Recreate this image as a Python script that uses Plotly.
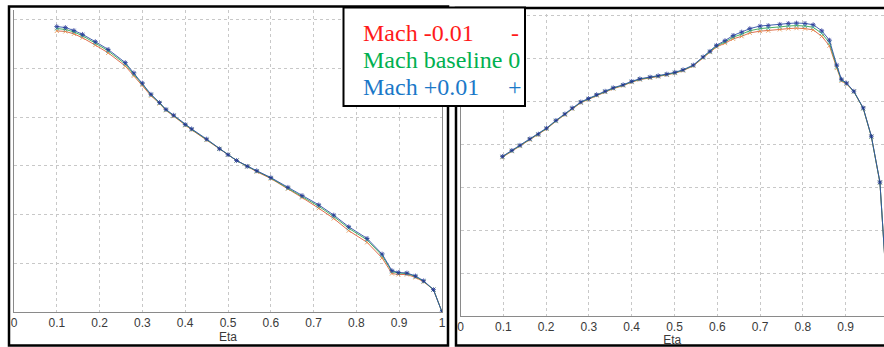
import plotly.graph_objects as go

W, H = 884, 347

# ---------------- data ----------------
left_eta = [0.10, 0.12, 0.14, 0.16, 0.19, 0.22, 0.26, 0.28, 0.30, 0.32, 0.34, 0.355, 0.373,
            0.40, 0.415, 0.45, 0.48, 0.50, 0.52, 0.545, 0.567, 0.60, 0.64, 0.673, 0.712,
            0.747, 0.782, 0.825, 0.86, 0.883, 0.898, 0.918, 0.938, 0.957, 0.98, 1.0]
left_minus = [5.77, 5.76, 5.71, 5.63, 5.48, 5.32, 5.05, 4.85, 4.66, 4.44, 4.28, 4.14, 4.02,
              3.83, 3.74, 3.53, 3.35, 3.23, 3.11, 2.99, 2.88, 2.74, 2.53, 2.35, 2.13,
              1.92, 1.67, 1.43, 1.11, 0.79, 0.77, 0.77, 0.71, 0.62, 0.46, 0.0]
left_base = [5.82, 5.80, 5.75, 5.67, 5.52, 5.36, 5.09, 4.88, 4.68, 4.46, 4.29, 4.15, 4.03,
             3.84, 3.75, 3.54, 3.35, 3.23, 3.11, 2.99, 2.89, 2.75, 2.54, 2.37, 2.17,
             1.96, 1.72, 1.48, 1.16, 0.83, 0.80, 0.79, 0.73, 0.63, 0.46, 0.0]
left_plus = [5.86, 5.84, 5.78, 5.70, 5.55, 5.39, 5.12, 4.91, 4.70, 4.47, 4.30, 4.16, 4.04,
             3.85, 3.76, 3.55, 3.35, 3.23, 3.11, 2.99, 2.90, 2.76, 2.56, 2.39, 2.20,
             1.99, 1.75, 1.51, 1.19, 0.85, 0.81, 0.80, 0.74, 0.64, 0.46, 0.0]

right_eta = [0.098, 0.12, 0.139, 0.162, 0.182, 0.201, 0.223, 0.244, 0.261, 0.281, 0.299,
             0.318, 0.338, 0.357, 0.38, 0.40, 0.419, 0.443, 0.462, 0.482, 0.501, 0.52,
             0.544, 0.567, 0.583, 0.598, 0.618, 0.637, 0.657, 0.676, 0.70, 0.719, 0.746,
             0.766, 0.785, 0.805, 0.824, 0.844, 0.862, 0.879, 0.89, 0.902, 0.919, 0.941,
             0.96, 0.98, 1.0]
right_minus = [3.70, 3.84, 3.96, 4.11, 4.22, 4.36, 4.54, 4.69, 4.83, 4.97, 5.05,
               5.14, 5.22, 5.30, 5.37, 5.45, 5.51, 5.55, 5.58, 5.62, 5.66, 5.72,
               5.83, 6.02, 6.15, 6.27, 6.36, 6.46, 6.52, 6.60, 6.64, 6.65, 6.68,
               6.70, 6.71, 6.70, 6.67, 6.52, 6.30, 5.78, 5.48, 5.41, 5.23, 4.84,
               4.18, 3.11, 0.0]
right_base = [3.71, 3.85, 3.97, 4.12, 4.23, 4.37, 4.55, 4.70, 4.84, 4.98, 5.06,
              5.15, 5.23, 5.31, 5.38, 5.46, 5.52, 5.56, 5.59, 5.63, 5.67, 5.73,
              5.84, 6.03, 6.16, 6.29, 6.39, 6.50, 6.57, 6.65, 6.70, 6.71, 6.74,
              6.76, 6.77, 6.76, 6.73, 6.59, 6.37, 5.81, 5.50, 5.42, 5.23, 4.84,
              4.18, 3.11, 0.0]
right_plus = [3.72, 3.86, 3.98, 4.13, 4.24, 4.38, 4.56, 4.71, 4.85, 4.99, 5.07,
              5.16, 5.24, 5.32, 5.39, 5.47, 5.53, 5.57, 5.60, 5.64, 5.68, 5.74,
              5.85, 6.04, 6.17, 6.31, 6.42, 6.54, 6.62, 6.70, 6.76, 6.77, 6.80,
              6.82, 6.83, 6.82, 6.79, 6.65, 6.43, 5.85, 5.52, 5.43, 5.24, 4.85,
              4.19, 3.12, 0.0]

x_ticks = [0, 0.1, 0.2, 0.3, 0.4, 0.5, 0.6, 0.7, 0.8, 0.9, 1]
x_tick_labels = ["0", "0.1", "0.2", "0.3", "0.4", "0.5", "0.6", "0.7", "0.8", "0.9", "1"]
x_title = "Eta"

legend_labels = ["Mach -0.01", "Mach baseline 0", "Mach +0.01"]
legend_symbols = ["-", "", "+"]
legend_colors = ["#ff1a1a", "#00b050", "#1a78c8"]

# ---------------- helpers ----------------
def px(x):
    return x / W


def py(y):
    return 1 - y / H


series_style = [
    dict(line="#e0603a", marker="#e08030", symbol="x-thin"),
    dict(line="#33a853", marker="#30b0a0", symbol="x-thin"),
    dict(line="#3050a8", marker="#1a2a90", symbol="asterisk"),
]

fig = go.Figure()

for (xs, ys_list, xa, ya) in [
    (left_eta, [left_minus, left_base, left_plus], "x", "y"),
    (right_eta, [right_minus, right_base, right_plus], "x2", "y2"),
]:
    for ys, st, name in zip(ys_list, series_style, legend_labels):
        fig.add_trace(go.Scatter(
            x=xs, y=ys, mode="lines+markers", name=name, xaxis=xa, yaxis=ya,
            line=dict(color=st["line"], width=1),
            marker=dict(symbol=st["symbol"], size=4,
                        line=dict(color=st["marker"], width=0.8)),
            opacity=0.9,
            showlegend=False,
        ))

axis_common = dict(
    showgrid=True, gridcolor="#c8c8c8", griddash="dot", gridwidth=1,
    zeroline=False, showline=True, linecolor="#8a8a8a", linewidth=1,
    automargin=False,
)

fig.update_layout(
    width=W, height=H,
    margin=dict(l=0, r=0, t=0, b=0, pad=0),
    paper_bgcolor="white", plot_bgcolor="white",
    font=dict(family="Liberation Sans, Arial, sans-serif", size=12, color="#3a3a3a"),
    xaxis=dict(**axis_common, domain=[px(14), px(442)], range=[0, 1],
               tickvals=x_ticks, ticktext=x_tick_labels, ticks="",
               title=dict(text=x_title, standoff=0, font=dict(size=12)),
               anchor="y", mirror=False),
    yaxis=dict(**axis_common, domain=[py(312), py(10)], range=[0, 6.2], dtick=1,
               showticklabels=False, ticks="", anchor="x", mirror=True),
    xaxis2=dict(**axis_common, domain=[px(460.5), 1.0], range=[0, 0.9895],
                tickvals=x_ticks, ticktext=x_tick_labels, ticks="",
                title=dict(text=x_title, standoff=0, font=dict(size=12)),
                anchor="y2"),
    yaxis2=dict(**axis_common, domain=[py(316), py(14)], range=[0, 7.04], dtick=1,
                showticklabels=False, ticks="", anchor="x2"),
)

shapes = [
    # left panel border
    dict(type="rect", xref="paper", yref="paper",
         x0=px(9), x1=px(448), y0=py(345.5), y1=py(6.5),
         line=dict(color="black", width=2.5), fillcolor="rgba(0,0,0,0)", layer="above"),
    # right panel border
    dict(type="rect", xref="paper", yref="paper",
         x0=px(456), x1=px(900), y0=py(345.5), y1=py(8),
         line=dict(color="black", width=2.5), fillcolor="rgba(0,0,0,0)", layer="above"),
    # legend box
    dict(type="rect", xref="paper", yref="paper",
         x0=px(343.5), x1=px(525), y0=py(106), y1=py(7.5),
         line=dict(color="black", width=2), fillcolor="white", layer="above"),
]
fig.update_layout(shapes=shapes)

line_y = [33, 60, 87]
for lab, sym, col, yy in zip(legend_labels, legend_symbols, legend_colors, line_y):
    fig.add_annotation(xref="paper", yref="paper", x=px(362), y=py(yy),
                       xanchor="left", yanchor="middle", showarrow=False, text=lab,
                       borderpad=0,
                       font=dict(family="Liberation Serif, Times New Roman, serif",
                                 size=24, color=col))
    if sym:
        fig.add_annotation(xref="paper", yref="paper", x=px(515), y=py(yy),
                           xanchor="center", yanchor="middle", showarrow=False, text=sym,
                           borderpad=0,
                           font=dict(family="Liberation Serif, Times New Roman, serif",
                                     size=24, color=col))

fig.write_html("out.html", config={"displayModeBar": False},
               post_script="document.body.style.margin='0';document.body.style.padding='0';")
